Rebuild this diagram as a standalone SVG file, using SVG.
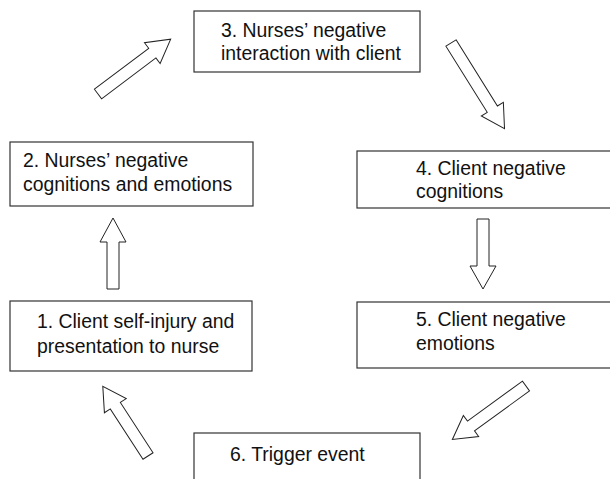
<svg xmlns="http://www.w3.org/2000/svg" width="610" height="479" viewBox="0 0 610 479">
<style>
.box{fill:#fff;stroke:#333;stroke-width:1.2}
.t{font-family:"Liberation Sans",Arial,sans-serif;font-size:19.4px;fill:#111}
.arr{fill:#fff;stroke:#222;stroke-width:1}
</style>
<rect width="610" height="479" fill="#fff"/>
<g id="connectors">
<path class="arr" transform="translate(98,94) rotate(-37)" d="M0,-6 H68 V-13 L91,0 L68,13 V6 H0 Z"/>
<path class="arr" transform="translate(451,43) rotate(58)" d="M0,-6 H78 V-13 L101,0 L78,13 V6 H0 Z"/>
<path class="arr" transform="translate(483,219) rotate(90)" d="M0,-6 H47 V-13 L70,0 L47,13 V6 H0 Z"/>
<path class="arr" transform="translate(526,386) rotate(144)" d="M0,-6 H68 V-13 L91,0 L68,13 V6 H0 Z"/>
<path class="arr" transform="translate(148,456) rotate(-123)" d="M0,-6 H60 V-13 L83,0 L60,13 V6 H0 Z"/>
<path class="arr" transform="translate(113,289) rotate(-90)" d="M0,-6 H47 V-13 L71,0 L47,13 V6 H0 Z"/>
</g>
<g id="n3"><rect class="box" x="194" y="11" width="226" height="61"/>
<text class="t" x="221" y="37">3. Nurses’ negative</text><text class="t" x="221" y="60">interaction with client</text></g>
<g id="n2"><rect class="box" x="10" y="142" width="243" height="64"/>
<text class="t" x="23" y="167">2. Nurses’ negative</text><text class="t" x="23" y="191">cognitions and emotions</text></g>
<g id="n4"><rect class="box" x="357" y="151" width="260" height="57"/>
<text class="t" x="416" y="175">4. Client negative</text><text class="t" x="416" y="198">cognitions</text></g>
<g id="n1"><rect class="box" x="10" y="301" width="242" height="70"/>
<text class="t" x="37" y="328">1. Client self-injury and</text><text class="t" x="37" y="353">presentation to nurse</text></g>
<g id="n5"><rect class="box" x="357" y="302" width="260" height="66"/>
<text class="t" x="416" y="326">5. Client negative</text><text class="t" x="416" y="350">emotions</text></g>
<g id="n6"><rect class="box" x="194" y="433" width="226" height="60"/>
<text class="t" x="230" y="461">6. Trigger event</text></g>
</svg>
